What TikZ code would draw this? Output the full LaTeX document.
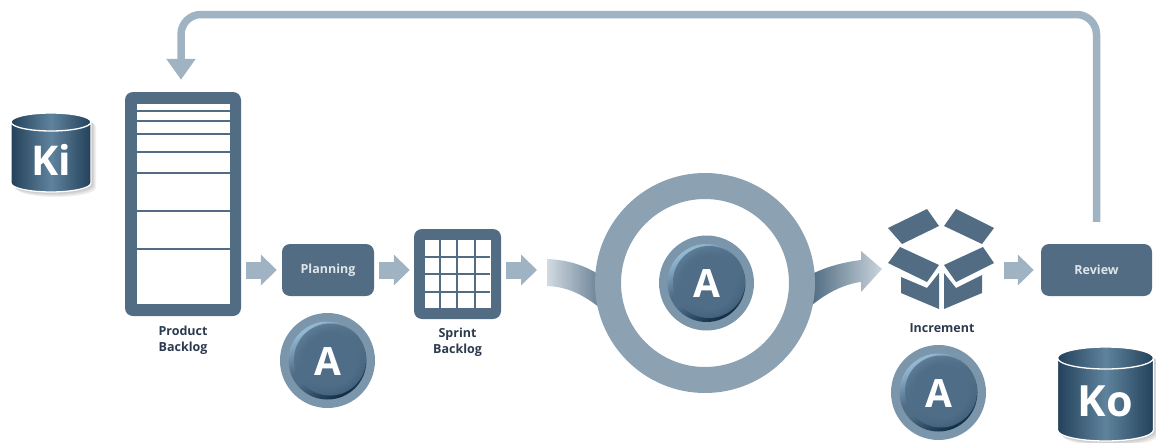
\documentclass[tikz,border=0pt]{standalone}
\usepackage{fontspec}
\setmainfont{Open Sans}
\usepackage{tikz}
\usetikzlibrary{arrows.meta,fadings,positioning}

\definecolor{slateblue}{HTML}{526D83}
\definecolor{arrowgray}{HTML}{9FB3C2}
\definecolor{ringgray}{HTML}{8CA1B2}
\definecolor{badgerim}{HTML}{7B96AB}
\definecolor{capnavy}{HTML}{2B3A4E}
\definecolor{balllight}{HTML}{94B8D2}
\definecolor{ballmid}{HTML}{4F6D87}
\definecolor{balldark}{HTML}{0C2A42}
\definecolor{candark}{HTML}{23415A}
\definecolor{canlight}{HTML}{5F839D}

\pgfdeclareverticalshading{ballbase}{100bp}{color(0bp)=(balldark); color(24bp)=(balldark); color(46bp)=(ballmid); color(54bp)=(ballmid); color(74bp)=(balllight); color(100bp)=(balllight)}
\pgfdeclareradialshading{ballmask}{\pgfpointorigin}{color(0bp)=(white); color(18bp)=(white); color(49bp)=(black); color(50bp)=(black)}
\pgfdeclarefading{ballfade}{\pgfuseshading{ballmask}}

\tikzset{
	panel/.style={rectangle,rounded corners=8pt,fill=slateblue,inner sep=0pt},
	sheet/.style={rectangle,fill=white,inner sep=0pt},
	stage/.style={panel,text=white!82!slateblue,font=\bfseries\fontsize{12.5}{15}\selectfont,minimum width=92pt,minimum height=52pt},
	caption/.style={text=capnavy,font=\bfseries\fontsize{12.5}{16}\selectfont,align=center,inner sep=0pt},
	blockarrow/.style={draw=arrowgray,line width=17pt,-{Triangle[length=16pt,width=30pt]},shorten <=5pt,shorten >=5pt},
	returnarrow/.style={draw=arrowgray,line width=7.5pt,rounded corners=20pt,-{Triangle[length=21pt,width=28pt]},shorten <=22pt,shorten >=12pt},
	badgering/.style={circle,fill=badgerim,minimum size=95pt,inner sep=0pt},
	letter/.style={text=white,font=\bfseries\fontsize{#1}{#1}\selectfont,inner sep=0pt},
}

\begin{document}
\begin{tikzpicture}[x=1pt,y=-1pt]
	\useasboundingbox (0,0) rectangle (1156,442);

	\node[panel,minimum width=116pt,minimum height=224pt] (backlog) at (183,204) {};
	\node[sheet,minimum width=93pt,minimum height=200pt] (backlogsheet) at (backlog) {};
	\foreach \row in {111,121,134,152,173,211,249}
		\draw[slateblue,line width=2.2pt] (backlogsheet.west |- 0,\row) -- (backlogsheet.east |- 0,\row);
	\node[caption,below=10pt of backlog] (backlogcap) {Product\\Backlog};

	\node[stage] (planning) at (328,270) {\raisebox{-1.5pt}{Planning}};

	\node[panel,minimum width=87pt,minimum height=90pt] (sprint) at (457.5,274) {};
	\node[sheet,minimum width=66pt,minimum height=68pt] (sprintsheet) at (sprint) {};
	\foreach \col in {440,457,475}
		\draw[slateblue,line width=2.2pt] (\col,240) -- (\col,308);
	\foreach \row in {257,274,292}
		\draw[slateblue,line width=2.2pt] (424,\row) -- (490,\row);
	\node[caption,below=9pt of sprint] (sprintcap) {Sprint\\Backlog};

	\shade[left color=black!3!arrowgray!45,right color=slateblue!80!arrowgray] (547,259) .. controls (570,260) and (585,266) .. (600,275) -- (604,311) .. controls (585,296) and (570,287) .. (547,286) -- cycle;
	\shade[left color=slateblue,right color=arrowgray!55] (812,274) .. controls (828,266) and (845,262) .. (861,260) -- (861,251) -- (882,269) -- (861,292) -- (861,282) .. controls (845,284) and (828,292) .. (812,305) -- cycle;
	\node[circle,draw=ringgray,fill=white,line width=26pt,minimum size=194pt,inner sep=0pt] (sprintring) at (705,283) {};

	\fill[slateblue] (927,209) -- (939,226) -- (902,244) -- (888,228) -- cycle;
	\fill[slateblue] (956,209) -- (994,228) -- (982,244) -- (944,226) -- cycle;
	\fill[slateblue] (900,247) -- (939,265) -- (927,282) -- (888,263) -- cycle;
	\fill[slateblue] (983,247) -- (994,263) -- (956,282) -- (944,265) -- cycle;
	\fill[slateblue] (901,277) -- (927,288) -- (939,273) -- (939,309) -- (901,293) -- cycle;
	\fill[slateblue] (982,275) -- (956,288) -- (944,273) -- (944,309) -- (982,293) -- cycle;
	\coordinate (increment) at (999,270);
	\node[caption] (incrementcap) at (942,328) {Increment};

	\node[stage,minimum width=111pt] (review) at (1096.5,270) {\raisebox{-1.5pt}{Review}};

	\coordinate (swooshin) at (542,270);
	\coordinate (toprail) at (640,14.5);
	\draw[blockarrow] (backlog.east |- planning) -- (planning);
	\draw[blockarrow,shorten >=4pt] (planning) -- (sprint.west |- planning);
	\draw[blockarrow] (sprint.east |- swooshin) -- (swooshin);
	\draw[blockarrow,shorten >=7pt] (increment) -- (review.west |- increment);
	\draw[returnarrow] (review.north) -- (review.north |- toprail) -- ([xshift=-2pt]backlog.north |- toprail) -- ([xshift=-2pt]backlog.north);

	\foreach \cx/\cy/\nm in {327.5/360.5/planbadge,706.5/283/sprintbadge,938.5/392.5/incbadge} {
		\node[badgering] (\nm) at (\cx,\cy) {};
		\shade[shading=ballbase,shading angle=30] (\nm) circle (39);
		\fill[ballmid,path fading=ballfade] ([shift={(2.5,-1)}]\nm.center) circle (36);
		\node[letter=39] (\nm text) at ([yshift=-1pt]\nm.center) {A};
	}

	\foreach \cx/\ty/\by/\rx/\ry/\nm/\word/\sz in {51/122/183/40/9/kidb/Ki/41,1105.5/358/430/48/11/kodb/Ko/43} {
		\foreach \s in {1,...,5}
			\fill[black,opacity=0.05] ({\cx-\rx+\s},{\ty+\s}) arc (180:0:\rx pt and \ry pt) -- ({\cx+\rx+\s},{\by+\s}) arc (0:-180:\rx pt and \ry pt) -- cycle;
		\shade[draw=white,line width=1.3pt,left color=candark,right color=candark,middle color=canlight] ({\cx-\rx},\ty) arc (180:0:\rx pt and \ry pt) -- ({\cx+\rx},\by) arc (0:-180:\rx pt and \ry pt) -- cycle;
		\draw[white,line width=1.3pt] ({\cx-\rx},\ty) arc (180:360:\rx pt and \ry pt);
		\node[letter=\sz] (\nm) at (\cx,{(\ty+\by)/2+7}) {\word};
	}
\end{tikzpicture}
\end{document}
